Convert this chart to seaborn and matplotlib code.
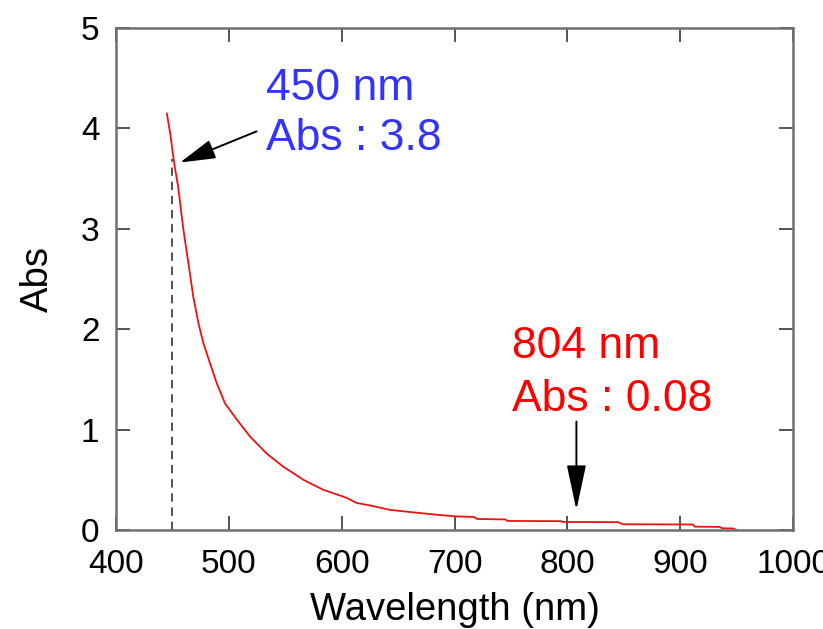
import matplotlib
matplotlib.use("Agg")
import matplotlib.pyplot as plt
import seaborn as sns
import pandas as pd

# Absorption spectrum (wavelength in nm, absorbance)
wavelength = [445, 448, 450, 452, 455, 459.7, 464.1, 468.5, 473, 477.4, 483.3, 489.3,
              496.6, 507, 518.8, 533.6, 548.3, 566, 583.8, 604.5, 613, 625, 643, 658,
              672, 687, 702, 717, 720, 745, 747, 794, 796, 845, 849, 911, 913, 935,
              937, 947, 950]
absorbance = [4.15, 3.95, 3.78, 3.62, 3.42, 2.99, 2.66, 2.32, 2.06, 1.86, 1.66, 1.46,
              1.26, 1.10, 0.93, 0.76, 0.63, 0.50, 0.40, 0.32, 0.27, 0.245, 0.20, 0.182,
              0.166, 0.149, 0.135, 0.13, 0.11, 0.105, 0.09, 0.088, 0.08, 0.078, 0.057,
              0.055, 0.033, 0.031, 0.017, 0.015, 0.0]

x_ticks = [400, 500, 600, 700, 800, 900, 1000]
y_ticks = [0, 1, 2, 3, 4, 5]

peak_nm, peak_abs = 450, 3.8
tail_nm, tail_abs = 804, 0.08

df = pd.DataFrame({"Wavelength (nm)": wavelength, "Abs": absorbance})

sns.set_style("ticks")
plt.rcParams["font.family"] = ["Liberation Sans", "DejaVu Sans"]

fig = plt.figure(figsize=(8.23, 6.29), dpi=100)
ax = fig.add_axes([0.141, 0.1574, 0.8226, 0.7981])

sns.lineplot(data=df, x="Wavelength (nm)", y="Abs", ax=ax, color="#ee1111",
             linewidth=1.3, estimator=None, sort=False)

# dashed marker at the 450 nm wavelength
ax.plot([peak_nm, peak_nm], [0, 3.7], color="#333333", lw=1.2,
        linestyle=(0, (5, 3.5)))

ax.set_xlim(400, 1000)
ax.set_ylim(0, 5)
ax.set_xticks(x_ticks)
ax.set_yticks(y_ticks)
ax.set_xlabel("Wavelength (nm)", fontsize=27.5, labelpad=8, color="black")
ax.set_ylabel("Abs", fontsize=27.5, labelpad=18, color="black")

for s in ax.spines.values():
    s.set_visible(True)
    s.set_color("#707070")
    s.set_linewidth(1.8)

ax.tick_params(axis="both", direction="in", length=10, width=1.3, color="#444444",
               labelsize=24, labelcolor="black", top=True, right=True)
ax.tick_params(axis="x", pad=14)
ax.tick_params(axis="y", pad=12)

blue = "#3333ff"
red = "#ff0000"
ax.text(533, 4.28, f"{peak_nm} nm", color=blue, fontsize=32, va="baseline", ha="left")
ax.text(533, 3.78, f"Abs : {peak_abs}", color=blue, fontsize=32, va="baseline", ha="left")
ax.annotate("", xy=(456.7, 3.66), xytext=(524.5, 3.97),
            arrowprops=dict(arrowstyle="-|>,head_length=1.1,head_width=0.3",
                            color="black", lw=1.4, mutation_scale=20,
                            shrinkA=0, shrinkB=0))

ax.text(751, 1.71, f"{tail_nm} nm", color=red, fontsize=32, va="baseline", ha="left")
ax.text(751, 1.19, f"Abs : {tail_abs}", color=red, fontsize=32, va="baseline", ha="left")
ax.annotate("", xy=(808, 0.2), xytext=(808, 1.08),
            arrowprops=dict(arrowstyle="-|>,head_length=1.4,head_width=0.3",
                            color="black", lw=1.4, mutation_scale=20,
                            shrinkA=0, shrinkB=0))

fig.savefig("out.png", dpi=100)
